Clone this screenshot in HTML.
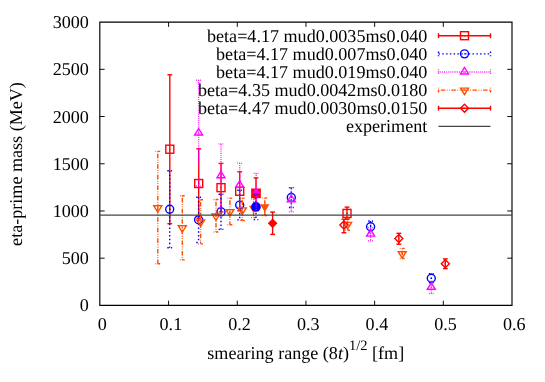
<!DOCTYPE html>
<html><head><meta charset="utf-8"><title>eta-prime mass</title>
<style>html,body{margin:0;padding:0;background:#fff;width:545px;height:382px;overflow:hidden}</style>
</head><body>
<svg width="545" height="382" viewBox="0 0 545 382" style="display:block;position:absolute;left:0;top:0;will-change:transform;opacity:0.999">
<rect width="545" height="382" fill="#fff"/>
<g font-family="'Liberation Serif', serif" font-size="18.1px" fill="#000" text-rendering="geometricPrecision">
<text x="88.9" y="311.40" text-anchor="end">0</text>
<line x1="99.90" y1="258.18" x2="104.65" y2="258.18" stroke="#000" stroke-width="0.95"/>
<line x1="512.00" y1="258.18" x2="507.25" y2="258.18" stroke="#000" stroke-width="0.95"/>
<text x="88.9" y="264.18" text-anchor="end">500</text>
<line x1="99.90" y1="210.97" x2="104.65" y2="210.97" stroke="#000" stroke-width="0.95"/>
<line x1="512.00" y1="210.97" x2="507.25" y2="210.97" stroke="#000" stroke-width="0.95"/>
<text x="88.9" y="216.97" text-anchor="end">1000</text>
<line x1="99.90" y1="163.75" x2="104.65" y2="163.75" stroke="#000" stroke-width="0.95"/>
<line x1="512.00" y1="163.75" x2="507.25" y2="163.75" stroke="#000" stroke-width="0.95"/>
<text x="88.9" y="169.75" text-anchor="end">1500</text>
<line x1="99.90" y1="116.53" x2="104.65" y2="116.53" stroke="#000" stroke-width="0.95"/>
<line x1="512.00" y1="116.53" x2="507.25" y2="116.53" stroke="#000" stroke-width="0.95"/>
<text x="88.9" y="122.53" text-anchor="end">2000</text>
<line x1="99.90" y1="69.32" x2="104.65" y2="69.32" stroke="#000" stroke-width="0.95"/>
<line x1="512.00" y1="69.32" x2="507.25" y2="69.32" stroke="#000" stroke-width="0.95"/>
<text x="88.9" y="75.32" text-anchor="end">2500</text>
<text x="88.9" y="28.10" text-anchor="end">3000</text>
<text x="102.20" y="330.0" text-anchor="middle">0</text>
<line x1="168.58" y1="305.40" x2="168.58" y2="300.65" stroke="#000" stroke-width="0.95"/>
<line x1="168.58" y1="22.10" x2="168.58" y2="26.85" stroke="#000" stroke-width="0.95"/>
<text x="170.88" y="330.0" text-anchor="middle">0.1</text>
<line x1="237.27" y1="305.40" x2="237.27" y2="300.65" stroke="#000" stroke-width="0.95"/>
<line x1="237.27" y1="22.10" x2="237.27" y2="26.85" stroke="#000" stroke-width="0.95"/>
<text x="239.57" y="330.0" text-anchor="middle">0.2</text>
<line x1="305.95" y1="305.40" x2="305.95" y2="300.65" stroke="#000" stroke-width="0.95"/>
<line x1="305.95" y1="22.10" x2="305.95" y2="26.85" stroke="#000" stroke-width="0.95"/>
<text x="308.25" y="330.0" text-anchor="middle">0.3</text>
<line x1="374.63" y1="305.40" x2="374.63" y2="300.65" stroke="#000" stroke-width="0.95"/>
<line x1="374.63" y1="22.10" x2="374.63" y2="26.85" stroke="#000" stroke-width="0.95"/>
<text x="376.93" y="330.0" text-anchor="middle">0.4</text>
<line x1="443.32" y1="305.40" x2="443.32" y2="300.65" stroke="#000" stroke-width="0.95"/>
<line x1="443.32" y1="22.10" x2="443.32" y2="26.85" stroke="#000" stroke-width="0.95"/>
<text x="445.62" y="330.0" text-anchor="middle">0.5</text>
<text x="514.30" y="330.0" text-anchor="middle">0.6</text>
<path d="M99.8 22.1 H512.0 V305.4 H99.8 Z" fill="none" stroke="#000" stroke-width="1.15" stroke-linejoin="miter"/>
<text transform="translate(22.0,164.0) rotate(-90)" text-anchor="middle">eta-prime mass (MeV)</text>
<text x="207.3" y="358.8">smearing range (8<tspan font-style="italic">t</tspan>)<tspan dy="-9.3" font-size="14.48px">1/2</tspan><tspan dy="9.3"> [fm]</tspan></text>
<text x="427.3" y="41.70" text-anchor="end">beta=4.17 mud0.0035ms0.040</text>
<line x1="438.50" y1="35.70" x2="490.50" y2="35.70" stroke="#ff0000" stroke-width="1.4"/>
<line x1="438.50" y1="33.30" x2="438.50" y2="38.10" stroke="#ff0000" stroke-width="1.4"/>
<line x1="490.50" y1="33.30" x2="490.50" y2="38.10" stroke="#ff0000" stroke-width="1.4"/>
<rect x="460.50" y="31.70" width="8.00" height="8.00" fill="none" stroke="#ff0000" stroke-width="1.4" stroke-linejoin="miter"/>
<circle cx="464.50" cy="35.70" r="0.70" fill="#ff0000"/>
<line x1="169.80" y1="74.80" x2="169.80" y2="223.70" stroke="#ff0000" stroke-width="1.4"/>
<line x1="167.40" y1="74.80" x2="172.20" y2="74.80" stroke="#ff0000" stroke-width="1.4"/>
<line x1="167.40" y1="223.70" x2="172.20" y2="223.70" stroke="#ff0000" stroke-width="1.4"/>
<line x1="198.70" y1="148.80" x2="198.70" y2="218.20" stroke="#ff0000" stroke-width="1.4"/>
<line x1="196.30" y1="148.80" x2="201.10" y2="148.80" stroke="#ff0000" stroke-width="1.4"/>
<line x1="196.30" y1="218.20" x2="201.10" y2="218.20" stroke="#ff0000" stroke-width="1.4"/>
<line x1="221.00" y1="163.40" x2="221.00" y2="211.90" stroke="#ff0000" stroke-width="1.4"/>
<line x1="218.60" y1="163.40" x2="223.40" y2="163.40" stroke="#ff0000" stroke-width="1.4"/>
<line x1="218.60" y1="211.90" x2="223.40" y2="211.90" stroke="#ff0000" stroke-width="1.4"/>
<line x1="239.70" y1="171.80" x2="239.70" y2="210.80" stroke="#ff0000" stroke-width="1.4"/>
<line x1="237.30" y1="171.80" x2="242.10" y2="171.80" stroke="#ff0000" stroke-width="1.4"/>
<line x1="237.30" y1="210.80" x2="242.10" y2="210.80" stroke="#ff0000" stroke-width="1.4"/>
<line x1="347.00" y1="207.10" x2="347.00" y2="219.40" stroke="#ff0000" stroke-width="1.4"/>
<line x1="344.60" y1="207.10" x2="349.40" y2="207.10" stroke="#ff0000" stroke-width="1.4"/>
<line x1="344.60" y1="219.40" x2="349.40" y2="219.40" stroke="#ff0000" stroke-width="1.4"/>
<rect x="165.80" y="145.20" width="8.00" height="8.00" fill="none" stroke="#ff0000" stroke-width="1.4" stroke-linejoin="miter"/>
<circle cx="169.80" cy="149.20" r="0.70" fill="#ff0000"/>
<rect x="194.70" y="179.50" width="8.00" height="8.00" fill="none" stroke="#ff0000" stroke-width="1.4" stroke-linejoin="miter"/>
<circle cx="198.70" cy="183.50" r="0.70" fill="#ff0000"/>
<rect x="217.00" y="183.65" width="8.00" height="8.00" fill="none" stroke="#ff0000" stroke-width="1.4" stroke-linejoin="miter"/>
<circle cx="221.00" cy="187.65" r="0.70" fill="#ff0000"/>
<rect x="235.70" y="187.30" width="8.00" height="8.00" fill="none" stroke="#ff0000" stroke-width="1.4" stroke-linejoin="miter"/>
<circle cx="239.70" cy="191.30" r="0.70" fill="#ff0000"/>
<rect x="343.00" y="209.40" width="8.00" height="8.00" fill="none" stroke="#ff0000" stroke-width="1.4" stroke-linejoin="miter"/>
<circle cx="347.00" cy="213.40" r="0.70" fill="#ff0000"/>
<line x1="253.60" y1="198.90" x2="253.60" y2="217.60" stroke="#ff4d00" stroke-width="1.4" stroke-dasharray="0.757 1.51 4.54 1.51 0.757 1.51"/>
<line x1="251.20" y1="198.90" x2="256.00" y2="198.90" stroke="#ff4d00" stroke-width="1.4" stroke-dasharray="0.757 1.51 4.54 1.51 0.757 1.51"/>
<line x1="251.20" y1="217.60" x2="256.00" y2="217.60" stroke="#ff4d00" stroke-width="1.4" stroke-dasharray="0.757 1.51 4.54 1.51 0.757 1.51"/>
<path d="M253.60 213.36 L248.90 205.75 L258.30 205.75 Z" fill="#ff4d00" stroke="none"/>
<line x1="256.00" y1="177.90" x2="256.00" y2="208.80" stroke="#ff0000" stroke-width="1.4"/>
<line x1="253.60" y1="177.90" x2="258.40" y2="177.90" stroke="#ff0000" stroke-width="1.4"/>
<line x1="253.60" y1="208.80" x2="258.40" y2="208.80" stroke="#ff0000" stroke-width="1.4"/>
<rect x="251.15" y="188.50" width="9.70" height="9.70" fill="#ff0000" stroke="none"/>
<text x="427.3" y="59.83" text-anchor="end">beta=4.17 mud0.007ms0.040</text>
<line x1="438.50" y1="53.83" x2="490.50" y2="53.83" stroke="#0000ff" stroke-width="1.4" stroke-dasharray="1.51 2.27"/>
<line x1="438.50" y1="51.43" x2="438.50" y2="56.23" stroke="#0000ff" stroke-width="1.4" stroke-dasharray="1.51 2.27"/>
<line x1="490.50" y1="51.43" x2="490.50" y2="56.23" stroke="#0000ff" stroke-width="1.4" stroke-dasharray="1.51 2.27"/>
<circle cx="464.50" cy="53.83" r="4.00" fill="none" stroke="#0000ff" stroke-width="1.4" stroke-linejoin="miter"/>
<circle cx="464.50" cy="53.83" r="0.70" fill="#0000ff"/>
<line x1="169.70" y1="170.80" x2="169.70" y2="247.80" stroke="#0000ff" stroke-width="1.4" stroke-dasharray="1.51 2.27"/>
<line x1="167.30" y1="170.80" x2="172.10" y2="170.80" stroke="#0000ff" stroke-width="1.4" stroke-dasharray="1.51 2.27"/>
<line x1="167.30" y1="247.80" x2="172.10" y2="247.80" stroke="#0000ff" stroke-width="1.4" stroke-dasharray="1.51 2.27"/>
<line x1="198.60" y1="197.20" x2="198.60" y2="242.50" stroke="#0000ff" stroke-width="1.4" stroke-dasharray="1.51 2.27"/>
<line x1="196.20" y1="197.20" x2="201.00" y2="197.20" stroke="#0000ff" stroke-width="1.4" stroke-dasharray="1.51 2.27"/>
<line x1="196.20" y1="242.50" x2="201.00" y2="242.50" stroke="#0000ff" stroke-width="1.4" stroke-dasharray="1.51 2.27"/>
<line x1="221.00" y1="194.20" x2="221.00" y2="229.40" stroke="#0000ff" stroke-width="1.4" stroke-dasharray="1.51 2.27"/>
<line x1="218.60" y1="194.20" x2="223.40" y2="194.20" stroke="#0000ff" stroke-width="1.4" stroke-dasharray="1.51 2.27"/>
<line x1="218.60" y1="229.40" x2="223.40" y2="229.40" stroke="#0000ff" stroke-width="1.4" stroke-dasharray="1.51 2.27"/>
<line x1="239.70" y1="190.30" x2="239.70" y2="219.90" stroke="#0000ff" stroke-width="1.4" stroke-dasharray="1.51 2.27"/>
<line x1="237.30" y1="190.30" x2="242.10" y2="190.30" stroke="#0000ff" stroke-width="1.4" stroke-dasharray="1.51 2.27"/>
<line x1="237.30" y1="219.90" x2="242.10" y2="219.90" stroke="#0000ff" stroke-width="1.4" stroke-dasharray="1.51 2.27"/>
<line x1="291.30" y1="187.60" x2="291.30" y2="207.50" stroke="#0000ff" stroke-width="1.4" stroke-dasharray="1.51 2.27"/>
<line x1="288.90" y1="187.60" x2="293.70" y2="187.60" stroke="#0000ff" stroke-width="1.4" stroke-dasharray="1.51 2.27"/>
<line x1="288.90" y1="207.50" x2="293.70" y2="207.50" stroke="#0000ff" stroke-width="1.4" stroke-dasharray="1.51 2.27"/>
<line x1="370.60" y1="221.00" x2="370.60" y2="232.50" stroke="#0000ff" stroke-width="1.4" stroke-dasharray="1.51 2.27"/>
<line x1="368.20" y1="221.00" x2="373.00" y2="221.00" stroke="#0000ff" stroke-width="1.4" stroke-dasharray="1.51 2.27"/>
<line x1="368.20" y1="232.50" x2="373.00" y2="232.50" stroke="#0000ff" stroke-width="1.4" stroke-dasharray="1.51 2.27"/>
<line x1="431.30" y1="273.60" x2="431.30" y2="282.80" stroke="#0000ff" stroke-width="1.4" stroke-dasharray="1.51 2.27"/>
<line x1="428.90" y1="273.60" x2="433.70" y2="273.60" stroke="#0000ff" stroke-width="1.4" stroke-dasharray="1.51 2.27"/>
<line x1="428.90" y1="282.80" x2="433.70" y2="282.80" stroke="#0000ff" stroke-width="1.4" stroke-dasharray="1.51 2.27"/>
<circle cx="169.70" cy="209.20" r="4.00" fill="none" stroke="#0000ff" stroke-width="1.4" stroke-linejoin="miter"/>
<circle cx="169.70" cy="209.20" r="0.70" fill="#0000ff"/>
<circle cx="198.60" cy="219.80" r="4.00" fill="none" stroke="#0000ff" stroke-width="1.4" stroke-linejoin="miter"/>
<circle cx="198.60" cy="219.80" r="0.70" fill="#0000ff"/>
<circle cx="221.00" cy="211.90" r="4.00" fill="none" stroke="#0000ff" stroke-width="1.4" stroke-linejoin="miter"/>
<circle cx="221.00" cy="211.90" r="0.70" fill="#0000ff"/>
<circle cx="239.70" cy="205.10" r="4.00" fill="none" stroke="#0000ff" stroke-width="1.4" stroke-linejoin="miter"/>
<circle cx="239.70" cy="205.10" r="0.70" fill="#0000ff"/>
<circle cx="291.30" cy="197.50" r="4.00" fill="none" stroke="#0000ff" stroke-width="1.4" stroke-linejoin="miter"/>
<circle cx="291.30" cy="197.50" r="0.70" fill="#0000ff"/>
<circle cx="370.60" cy="226.75" r="4.00" fill="none" stroke="#0000ff" stroke-width="1.4" stroke-linejoin="miter"/>
<circle cx="370.60" cy="226.75" r="0.70" fill="#0000ff"/>
<circle cx="431.30" cy="278.20" r="4.00" fill="none" stroke="#0000ff" stroke-width="1.4" stroke-linejoin="miter"/>
<circle cx="431.30" cy="278.20" r="0.70" fill="#0000ff"/>
<line x1="256.00" y1="193.80" x2="256.00" y2="219.60" stroke="#0000ff" stroke-width="1.4" stroke-dasharray="1.51 2.27"/>
<line x1="253.60" y1="193.80" x2="258.40" y2="193.80" stroke="#0000ff" stroke-width="1.4" stroke-dasharray="1.51 2.27"/>
<line x1="253.60" y1="219.60" x2="258.40" y2="219.60" stroke="#0000ff" stroke-width="1.4" stroke-dasharray="1.51 2.27"/>
<circle cx="256.00" cy="206.90" r="4.85" fill="#0000ff" stroke="none"/>
<text x="427.3" y="77.96" text-anchor="end">beta=4.17 mud0.019ms0.040</text>
<line x1="438.50" y1="71.96" x2="490.50" y2="71.96" stroke="#ff00ff" stroke-width="1.4" stroke-dasharray="0.757 1.135"/>
<line x1="438.50" y1="69.56" x2="438.50" y2="74.36" stroke="#ff00ff" stroke-width="1.4" stroke-dasharray="0.757 1.135"/>
<line x1="490.50" y1="69.56" x2="490.50" y2="74.36" stroke="#ff00ff" stroke-width="1.4" stroke-dasharray="0.757 1.135"/>
<path d="M464.50 67.48 L460.50 73.96 L468.50 73.96 Z" fill="none" stroke="#ff00ff" stroke-width="1.4" stroke-linejoin="miter"/>
<circle cx="464.50" cy="71.96" r="0.70" fill="#ff00ff"/>
<line x1="198.60" y1="80.30" x2="198.60" y2="186.00" stroke="#ff00ff" stroke-width="1.4" stroke-dasharray="0.757 1.135"/>
<line x1="196.20" y1="80.30" x2="201.00" y2="80.30" stroke="#ff00ff" stroke-width="1.4" stroke-dasharray="0.757 1.135"/>
<line x1="196.20" y1="186.00" x2="201.00" y2="186.00" stroke="#ff00ff" stroke-width="1.4" stroke-dasharray="0.757 1.135"/>
<line x1="221.00" y1="143.90" x2="221.00" y2="207.50" stroke="#ff00ff" stroke-width="1.4" stroke-dasharray="0.757 1.135"/>
<line x1="218.60" y1="143.90" x2="223.40" y2="143.90" stroke="#ff00ff" stroke-width="1.4" stroke-dasharray="0.757 1.135"/>
<line x1="218.60" y1="207.50" x2="223.40" y2="207.50" stroke="#ff00ff" stroke-width="1.4" stroke-dasharray="0.757 1.135"/>
<line x1="239.70" y1="163.10" x2="239.70" y2="207.30" stroke="#ff00ff" stroke-width="1.4" stroke-dasharray="0.757 1.135"/>
<line x1="237.30" y1="163.10" x2="242.10" y2="163.10" stroke="#ff00ff" stroke-width="1.4" stroke-dasharray="0.757 1.135"/>
<line x1="237.30" y1="207.30" x2="242.10" y2="207.30" stroke="#ff00ff" stroke-width="1.4" stroke-dasharray="0.757 1.135"/>
<line x1="291.30" y1="187.60" x2="291.30" y2="211.80" stroke="#ff00ff" stroke-width="1.4" stroke-dasharray="0.757 1.135"/>
<line x1="288.90" y1="187.60" x2="293.70" y2="187.60" stroke="#ff00ff" stroke-width="1.4" stroke-dasharray="0.757 1.135"/>
<line x1="288.90" y1="211.80" x2="293.70" y2="211.80" stroke="#ff00ff" stroke-width="1.4" stroke-dasharray="0.757 1.135"/>
<line x1="370.60" y1="227.60" x2="370.60" y2="240.70" stroke="#ff00ff" stroke-width="1.4" stroke-dasharray="0.757 1.135"/>
<line x1="368.20" y1="227.60" x2="373.00" y2="227.60" stroke="#ff00ff" stroke-width="1.4" stroke-dasharray="0.757 1.135"/>
<line x1="368.20" y1="240.70" x2="373.00" y2="240.70" stroke="#ff00ff" stroke-width="1.4" stroke-dasharray="0.757 1.135"/>
<line x1="431.30" y1="281.10" x2="431.30" y2="293.50" stroke="#ff00ff" stroke-width="1.4" stroke-dasharray="0.757 1.135"/>
<line x1="428.90" y1="281.10" x2="433.70" y2="281.10" stroke="#ff00ff" stroke-width="1.4" stroke-dasharray="0.757 1.135"/>
<line x1="428.90" y1="293.50" x2="433.70" y2="293.50" stroke="#ff00ff" stroke-width="1.4" stroke-dasharray="0.757 1.135"/>
<path d="M198.60 128.52 L194.60 135.00 L202.60 135.00 Z" fill="none" stroke="#ff00ff" stroke-width="1.4" stroke-linejoin="miter"/>
<circle cx="198.60" cy="133.00" r="0.70" fill="#ff00ff"/>
<path d="M221.00 171.22 L217.00 177.70 L225.00 177.70 Z" fill="none" stroke="#ff00ff" stroke-width="1.4" stroke-linejoin="miter"/>
<circle cx="221.00" cy="175.70" r="0.70" fill="#ff00ff"/>
<path d="M239.70 180.72 L235.70 187.20 L243.70 187.20 Z" fill="none" stroke="#ff00ff" stroke-width="1.4" stroke-linejoin="miter"/>
<circle cx="239.70" cy="185.20" r="0.70" fill="#ff00ff"/>
<path d="M291.30 195.22 L287.30 201.70 L295.30 201.70 Z" fill="none" stroke="#ff00ff" stroke-width="1.4" stroke-linejoin="miter"/>
<circle cx="291.30" cy="199.70" r="0.70" fill="#ff00ff"/>
<path d="M370.60 229.62 L366.60 236.10 L374.60 236.10 Z" fill="none" stroke="#ff00ff" stroke-width="1.4" stroke-linejoin="miter"/>
<circle cx="370.60" cy="234.10" r="0.70" fill="#ff00ff"/>
<path d="M431.30 282.82 L427.30 289.30 L435.30 289.30 Z" fill="none" stroke="#ff00ff" stroke-width="1.4" stroke-linejoin="miter"/>
<circle cx="431.30" cy="287.30" r="0.70" fill="#ff00ff"/>
<line x1="256.20" y1="173.40" x2="256.20" y2="211.40" stroke="#ff00ff" stroke-width="1.4" stroke-dasharray="0.757 1.135"/>
<line x1="253.80" y1="173.40" x2="258.60" y2="173.40" stroke="#ff00ff" stroke-width="1.4" stroke-dasharray="0.757 1.135"/>
<line x1="253.80" y1="211.40" x2="258.60" y2="211.40" stroke="#ff00ff" stroke-width="1.4" stroke-dasharray="0.757 1.135"/>
<path d="M256.20 187.12 L252.20 193.60 L260.20 193.60 Z" fill="#ff00ff" stroke="none"/>
<text x="427.3" y="96.09" text-anchor="end">beta=4.35 mud0.0042ms0.0180</text>
<line x1="438.50" y1="90.09" x2="490.50" y2="90.09" stroke="#ff4d00" stroke-width="1.4" stroke-dasharray="0.757 1.51 4.54 1.51 0.757 1.51"/>
<line x1="438.50" y1="87.69" x2="438.50" y2="92.49" stroke="#ff4d00" stroke-width="1.4" stroke-dasharray="0.757 1.51 4.54 1.51 0.757 1.51"/>
<line x1="490.50" y1="87.69" x2="490.50" y2="92.49" stroke="#ff4d00" stroke-width="1.4" stroke-dasharray="0.757 1.51 4.54 1.51 0.757 1.51"/>
<path d="M464.50 94.57 L460.50 88.09 L468.50 88.09 Z" fill="none" stroke="#ff4d00" stroke-width="1.4" stroke-linejoin="miter"/>
<circle cx="464.50" cy="90.09" r="0.70" fill="#ff4d00"/>
<line x1="157.80" y1="151.40" x2="157.80" y2="263.80" stroke="#ff4d00" stroke-width="1.4" stroke-dasharray="0.757 1.51 4.54 1.51 0.757 1.51"/>
<line x1="155.40" y1="151.40" x2="160.20" y2="151.40" stroke="#ff4d00" stroke-width="1.4" stroke-dasharray="0.757 1.51 4.54 1.51 0.757 1.51"/>
<line x1="155.40" y1="263.80" x2="160.20" y2="263.80" stroke="#ff4d00" stroke-width="1.4" stroke-dasharray="0.757 1.51 4.54 1.51 0.757 1.51"/>
<line x1="182.30" y1="195.80" x2="182.30" y2="259.90" stroke="#ff4d00" stroke-width="1.4" stroke-dasharray="0.757 1.51 4.54 1.51 0.757 1.51"/>
<line x1="179.90" y1="195.80" x2="184.70" y2="195.80" stroke="#ff4d00" stroke-width="1.4" stroke-dasharray="0.757 1.51 4.54 1.51 0.757 1.51"/>
<line x1="179.90" y1="259.90" x2="184.70" y2="259.90" stroke="#ff4d00" stroke-width="1.4" stroke-dasharray="0.757 1.51 4.54 1.51 0.757 1.51"/>
<line x1="200.60" y1="199.70" x2="200.60" y2="243.90" stroke="#ff4d00" stroke-width="1.4" stroke-dasharray="0.757 1.51 4.54 1.51 0.757 1.51"/>
<line x1="198.20" y1="199.70" x2="203.00" y2="199.70" stroke="#ff4d00" stroke-width="1.4" stroke-dasharray="0.757 1.51 4.54 1.51 0.757 1.51"/>
<line x1="198.20" y1="243.90" x2="203.00" y2="243.90" stroke="#ff4d00" stroke-width="1.4" stroke-dasharray="0.757 1.51 4.54 1.51 0.757 1.51"/>
<line x1="216.00" y1="199.50" x2="216.00" y2="232.00" stroke="#ff4d00" stroke-width="1.4" stroke-dasharray="0.757 1.51 4.54 1.51 0.757 1.51"/>
<line x1="213.60" y1="199.50" x2="218.40" y2="199.50" stroke="#ff4d00" stroke-width="1.4" stroke-dasharray="0.757 1.51 4.54 1.51 0.757 1.51"/>
<line x1="213.60" y1="232.00" x2="218.40" y2="232.00" stroke="#ff4d00" stroke-width="1.4" stroke-dasharray="0.757 1.51 4.54 1.51 0.757 1.51"/>
<line x1="229.90" y1="198.10" x2="229.90" y2="224.70" stroke="#ff4d00" stroke-width="1.4" stroke-dasharray="0.757 1.51 4.54 1.51 0.757 1.51"/>
<line x1="227.50" y1="198.10" x2="232.30" y2="198.10" stroke="#ff4d00" stroke-width="1.4" stroke-dasharray="0.757 1.51 4.54 1.51 0.757 1.51"/>
<line x1="227.50" y1="224.70" x2="232.30" y2="224.70" stroke="#ff4d00" stroke-width="1.4" stroke-dasharray="0.757 1.51 4.54 1.51 0.757 1.51"/>
<line x1="242.30" y1="198.10" x2="242.30" y2="220.50" stroke="#ff4d00" stroke-width="1.4" stroke-dasharray="0.757 1.51 4.54 1.51 0.757 1.51"/>
<line x1="239.90" y1="198.10" x2="244.70" y2="198.10" stroke="#ff4d00" stroke-width="1.4" stroke-dasharray="0.757 1.51 4.54 1.51 0.757 1.51"/>
<line x1="239.90" y1="220.50" x2="244.70" y2="220.50" stroke="#ff4d00" stroke-width="1.4" stroke-dasharray="0.757 1.51 4.54 1.51 0.757 1.51"/>
<line x1="347.60" y1="218.40" x2="347.60" y2="230.20" stroke="#ff4d00" stroke-width="1.4" stroke-dasharray="0.757 1.51 4.54 1.51 0.757 1.51"/>
<line x1="345.20" y1="218.40" x2="350.00" y2="218.40" stroke="#ff4d00" stroke-width="1.4" stroke-dasharray="0.757 1.51 4.54 1.51 0.757 1.51"/>
<line x1="345.20" y1="230.20" x2="350.00" y2="230.20" stroke="#ff4d00" stroke-width="1.4" stroke-dasharray="0.757 1.51 4.54 1.51 0.757 1.51"/>
<line x1="402.20" y1="248.40" x2="402.20" y2="258.50" stroke="#ff4d00" stroke-width="1.4" stroke-dasharray="0.757 1.51 4.54 1.51 0.757 1.51"/>
<line x1="399.80" y1="248.40" x2="404.60" y2="248.40" stroke="#ff4d00" stroke-width="1.4" stroke-dasharray="0.757 1.51 4.54 1.51 0.757 1.51"/>
<line x1="399.80" y1="258.50" x2="404.60" y2="258.50" stroke="#ff4d00" stroke-width="1.4" stroke-dasharray="0.757 1.51 4.54 1.51 0.757 1.51"/>
<path d="M157.80 212.28 L153.80 205.80 L161.80 205.80 Z" fill="none" stroke="#ff4d00" stroke-width="1.4" stroke-linejoin="miter"/>
<circle cx="157.80" cy="207.80" r="0.70" fill="#ff4d00"/>
<path d="M182.30 232.28 L178.30 225.80 L186.30 225.80 Z" fill="none" stroke="#ff4d00" stroke-width="1.4" stroke-linejoin="miter"/>
<circle cx="182.30" cy="227.80" r="0.70" fill="#ff4d00"/>
<path d="M200.60 226.48 L196.60 220.00 L204.60 220.00 Z" fill="none" stroke="#ff4d00" stroke-width="1.4" stroke-linejoin="miter"/>
<circle cx="200.60" cy="222.00" r="0.70" fill="#ff4d00"/>
<path d="M216.00 220.48 L212.00 214.00 L220.00 214.00 Z" fill="none" stroke="#ff4d00" stroke-width="1.4" stroke-linejoin="miter"/>
<circle cx="216.00" cy="216.00" r="0.70" fill="#ff4d00"/>
<path d="M229.90 216.18 L225.90 209.70 L233.90 209.70 Z" fill="none" stroke="#ff4d00" stroke-width="1.4" stroke-linejoin="miter"/>
<circle cx="229.90" cy="211.70" r="0.70" fill="#ff4d00"/>
<path d="M242.30 214.38 L238.30 207.90 L246.30 207.90 Z" fill="none" stroke="#ff4d00" stroke-width="1.4" stroke-linejoin="miter"/>
<circle cx="242.30" cy="209.90" r="0.70" fill="#ff4d00"/>
<path d="M347.60 228.88 L343.60 222.40 L351.60 222.40 Z" fill="none" stroke="#ff4d00" stroke-width="1.4" stroke-linejoin="miter"/>
<circle cx="347.60" cy="224.40" r="0.70" fill="#ff4d00"/>
<path d="M402.20 258.18 L398.20 251.70 L406.20 251.70 Z" fill="none" stroke="#ff4d00" stroke-width="1.4" stroke-linejoin="miter"/>
<circle cx="402.20" cy="253.70" r="0.70" fill="#ff4d00"/>
<line x1="264.80" y1="197.90" x2="264.80" y2="215.50" stroke="#ff4d00" stroke-width="1.4" stroke-dasharray="0.757 1.51 4.54 1.51 0.757 1.51"/>
<line x1="262.40" y1="197.90" x2="267.20" y2="197.90" stroke="#ff4d00" stroke-width="1.4" stroke-dasharray="0.757 1.51 4.54 1.51 0.757 1.51"/>
<line x1="262.40" y1="215.50" x2="267.20" y2="215.50" stroke="#ff4d00" stroke-width="1.4" stroke-dasharray="0.757 1.51 4.54 1.51 0.757 1.51"/>
<path d="M264.80 211.96 L260.10 204.35 L269.50 204.35 Z" fill="#ff4d00" stroke="none"/>
<text x="427.3" y="114.22" text-anchor="end">beta=4.47 mud0.0030ms0.0150</text>
<line x1="438.50" y1="108.22" x2="490.50" y2="108.22" stroke="#ff0000" stroke-width="1.4"/>
<line x1="438.50" y1="105.82" x2="438.50" y2="110.62" stroke="#ff0000" stroke-width="1.4"/>
<line x1="490.50" y1="105.82" x2="490.50" y2="110.62" stroke="#ff0000" stroke-width="1.4"/>
<path d="M464.50 104.22 L460.50 108.22 L464.50 112.22 L468.50 108.22 Z" fill="none" stroke="#ff0000" stroke-width="1.4" stroke-linejoin="miter"/>
<circle cx="464.50" cy="108.22" r="0.70" fill="#ff0000"/>
<line x1="343.90" y1="219.20" x2="343.90" y2="232.75" stroke="#ff0000" stroke-width="1.4"/>
<line x1="341.50" y1="219.20" x2="346.30" y2="219.20" stroke="#ff0000" stroke-width="1.4"/>
<line x1="341.50" y1="232.75" x2="346.30" y2="232.75" stroke="#ff0000" stroke-width="1.4"/>
<line x1="398.85" y1="233.30" x2="398.85" y2="244.20" stroke="#ff0000" stroke-width="1.4"/>
<line x1="396.45" y1="233.30" x2="401.25" y2="233.30" stroke="#ff0000" stroke-width="1.4"/>
<line x1="396.45" y1="244.20" x2="401.25" y2="244.20" stroke="#ff0000" stroke-width="1.4"/>
<line x1="445.30" y1="258.90" x2="445.30" y2="268.60" stroke="#ff0000" stroke-width="1.4"/>
<line x1="442.90" y1="258.90" x2="447.70" y2="258.90" stroke="#ff0000" stroke-width="1.4"/>
<line x1="442.90" y1="268.60" x2="447.70" y2="268.60" stroke="#ff0000" stroke-width="1.4"/>
<path d="M343.90 221.10 L339.90 225.10 L343.90 229.10 L347.90 225.10 Z" fill="none" stroke="#ff0000" stroke-width="1.4" stroke-linejoin="miter"/>
<circle cx="343.90" cy="225.10" r="0.70" fill="#ff0000"/>
<path d="M398.85 234.60 L394.85 238.60 L398.85 242.60 L402.85 238.60 Z" fill="none" stroke="#ff0000" stroke-width="1.4" stroke-linejoin="miter"/>
<circle cx="398.85" cy="238.60" r="0.70" fill="#ff0000"/>
<path d="M445.30 259.70 L441.30 263.70 L445.30 267.70 L449.30 263.70 Z" fill="none" stroke="#ff0000" stroke-width="1.4" stroke-linejoin="miter"/>
<circle cx="445.30" cy="263.70" r="0.70" fill="#ff0000"/>
<line x1="272.60" y1="212.10" x2="272.60" y2="234.40" stroke="#ff0000" stroke-width="1.4"/>
<line x1="270.20" y1="212.10" x2="275.00" y2="212.10" stroke="#ff0000" stroke-width="1.4"/>
<line x1="270.20" y1="234.40" x2="275.00" y2="234.40" stroke="#ff0000" stroke-width="1.4"/>
<path d="M272.60 218.45 L267.75 223.30 L272.60 228.15 L277.45 223.30 Z" fill="#ff0000" stroke="none"/>
<line x1="99.90" y1="215.10" x2="512.00" y2="215.10" stroke="#444" stroke-width="1.4"/>
<text x="427.3" y="132.35" text-anchor="end">experiment</text>
<line x1="438.50" y1="126.35" x2="490.50" y2="126.35" stroke="#444" stroke-width="1.4"/>
</g></svg>
</body></html>
